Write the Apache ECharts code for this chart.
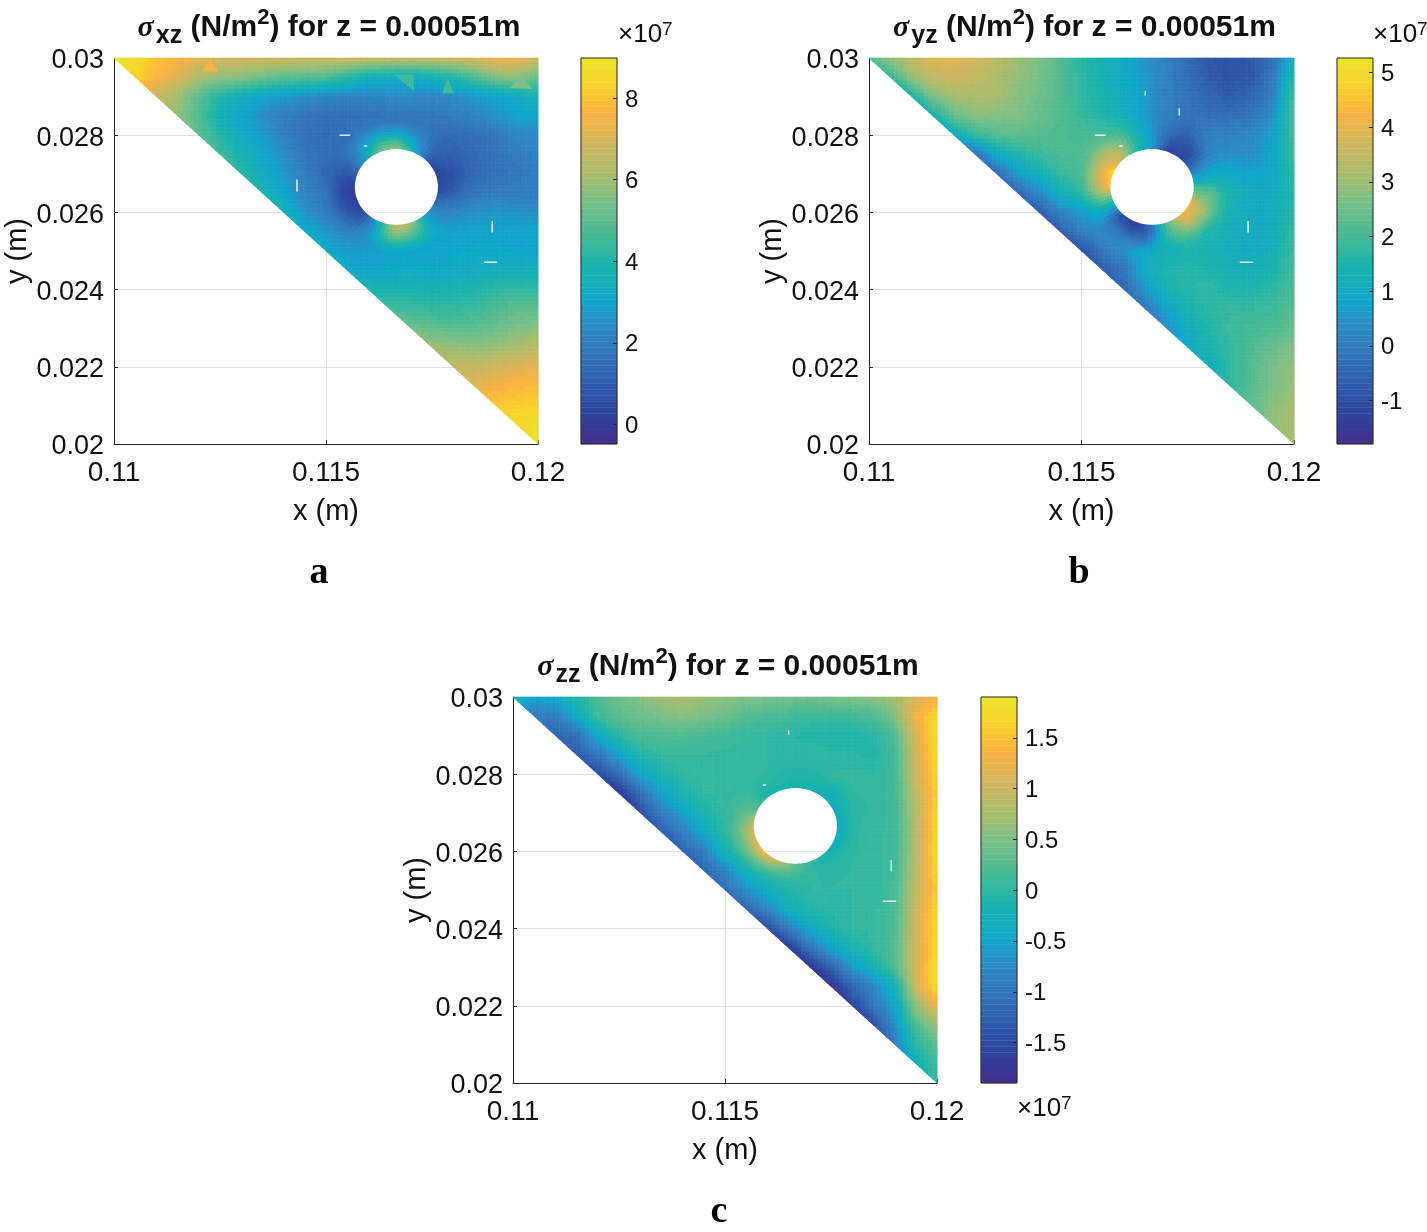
<!DOCTYPE html>
<html><head><meta charset="utf-8">
<style>html,body{margin:0;padding:0;background:#fff}#c{width:1427px;height:1232px}</style>
<script src="https://cdn.jsdelivr.net/npm/echarts@6/dist/echarts.min.js"></script>
</head><body><div id="c"></div>
<script>
// Node positions of the read-off grid (m)
const xNodes = [0.11,0.1105,0.111,0.1115,0.112,0.1125,0.113,0.1135,0.114,0.1145,0.115,0.1155,0.116,0.1165,0.117,0.1175,0.118,0.1185,0.119,0.1195,0.12];
const yNodes = [0.03,0.0295,0.029,0.0285,0.028,0.0275,0.027,0.0265,0.026,0.0255,0.025,0.0245,0.024,0.0235,0.023,0.0225,0.022,0.0215,0.021,0.0205,0.02];
// Stress, units of 1e7 N/m2. Row k starts at column k (lower-left half is outside the plate).
const sigmaXz = [
[9.0,8.6,8.0,7.7,7.3,7.0,7.0,6.9,6.9,6.9,6.9,6.9,6.9,6.8,6.8,6.8,6.9,7.1,7.5,7.5,6.8],
[8.4,7.7,7.2,6.2,5.8,5.7,5.3,5.0,4.9,4.8,4.2,3.5,3.4,3.2,3.6,4.0,4.8,5.6,5.8,5.2],
[6.8,6.0,5.0,4.0,3.4,3.0,2.8,2.5,2.3,2.2,2.2,2.4,2.4,2.3,2.4,2.7,3.0,3.2,3.7],
[5.8,4.8,3.6,3.0,2.5,2.0,1.7,1.5,1.5,1.6,1.7,1.7,1.8,1.9,2.2,2.6,3.0,3.0],
[5.0,4.0,3.3,2.8,2.1,1.6,1.4,1.6,2.0,2.2,2.0,1.6,1.4,1.5,1.8,2.3,2.4],
[4.6,3.7,3.1,2.5,1.7,1.5,1.6,2.6,3.5,3.0,1.5,1.1,1.4,1.6,2.0,2.2],
[4.2,3.3,2.7,2.0,1.3,0.9,1.4,2.0,2.0,1.2,0.9,1.3,1.6,1.8,1.9],
[3.9,3.0,2.2,1.7,0.6,1.5,2.5,2.5,1.6,1.4,1.7,2.0,2.0,2.0],
[3.6,2.6,2.0,1.2,1.4,3.0,3.0,2.2,2.4,2.5,2.7,2.6,2.4],
[3.3,2.7,2.3,2.5,4.5,4.0,3.0,2.9,3.0,3.0,3.0,3.0],
[3.1,2.8,2.8,2.9,3.0,2.9,3.0,3.1,3.1,3.0,3.0],
[3.2,3.0,3.1,3.2,3.1,3.2,3.3,3.4,3.5,3.5],
[3.9,3.8,3.8,3.7,3.8,3.9,4.2,4.3,4.2],
[4.5,4.4,4.3,4.3,4.4,4.7,5.0,5.0],
[5.3,5.1,4.9,5.0,5.2,5.5,5.7],
[6.0,5.9,5.7,5.9,6.2,6.4],
[6.6,6.6,6.9,7.1,7.3],
[7.2,7.5,7.7,7.8],
[8.1,8.2,8.3],
[8.6,8.7],
[8.8]];
const sigmaYz = [
[2.2,3.0,3.5,3.9,4.0,3.8,3.4,3.0,2.7,2.2,1.6,1.3,1.0,0.5,0.1,-0.4,-0.8,-0.9,-0.8,-0.3,1.2],
[1.8,3.0,3.5,3.6,3.5,3.2,2.9,2.6,2.2,1.7,1.3,1.0,0.6,0.2,-0.3,-0.7,-0.9,-0.8,-0.1,1.7],
[1.4,2.7,3.1,3.2,3.1,2.8,2.5,2.2,1.7,1.4,1.0,0.7,0.1,-0.2,-0.5,-0.7,-0.5,0.1,2.0],
[1.3,2.4,2.8,2.8,2.7,2.4,2.2,1.8,1.5,1.2,0.6,0.1,-0.2,-0.3,-0.3,-0.2,0.4,2.1],
[1.0,1.8,2.2,2.3,2.2,2.1,2.0,2.1,1.9,1.0,-0.2,-0.5,0.1,0.2,0.3,0.7,2.0],
[-0.2,1.0,1.5,1.9,2.1,2.1,2.8,4.0,2.0,0.0,-0.8,0.3,0.4,0.4,0.8,1.9],
[-0.3,0.7,1.2,1.8,2.1,3.0,3.0,1.0,1.0,0.5,1.0,0.9,0.8,0.9,1.7],
[-0.4,0.3,1.2,1.7,2.6,2.0,1.0,1.0,2.0,2.2,1.4,1.0,1.0,1.6],
[-0.7,0.2,0.7,1.0,-0.3,0.0,2.0,3.5,2.3,1.3,1.0,1.1,1.7],
[-0.7,0.1,0.4,0.3,-0.6,1.8,2.1,1.5,1.2,1.0,1.1,1.8],
[-0.9,-0.1,0.5,1.0,1.2,1.4,1.3,1.1,1.0,1.2,1.9],
[-0.7,-0.1,1.0,1.5,1.6,1.5,1.3,1.2,1.4,2.0],
[-0.4,0.6,1.4,1.6,1.7,1.5,1.5,1.7,2.1],
[-0.1,0.8,1.4,1.7,1.8,1.8,1.9,2.2],
[0.4,1.1,1.5,1.9,2.0,2.1,2.4],
[0.9,1.4,1.8,2.1,2.4,2.7],
[1.2,1.7,2.2,2.6,2.9],
[1.7,2.2,2.6,3.0],
[2.3,2.8,3.1],
[2.9,3.2],
[3.1]];
const sigmaZz = [
[-0.2,-0.5,-0.4,-0.1,0.2,0.4,0.55,0.7,0.8,0.65,0.6,0.55,0.5,0.45,0.45,0.5,0.55,0.6,0.75,1.1,1.3],
[-0.9,-0.9,-0.4,0.1,0.3,0.4,0.5,0.6,0.5,0.4,0.25,0.2,0.15,0.1,0.1,0.1,0.2,0.5,1.3,1.7],
[-1.2,-1.1,-0.4,0.0,0.2,0.2,0.2,0.15,0.1,0.05,0.0,-0.05,-0.1,-0.1,-0.1,-0.05,0.2,1.1,1.8],
[-1.3,-1.0,-0.5,-0.1,0.05,0.05,0.05,0.05,0.02,0.0,0.0,0.0,-0.05,-0.05,-0.1,0.1,1.0,1.75],
[-1.5,-1.1,-0.5,-0.15,0.0,0.02,0.02,0.02,0.0,-0.1,-0.1,0.02,0.02,0.0,0.1,1.0,1.7],
[-1.75,-1.1,-0.5,-0.15,0.0,0.02,0.05,-0.1,0.0,0.0,-0.2,0.0,0.0,0.1,0.9,1.6],
[-1.5,-0.9,-0.5,-0.15,0.05,0.3,0.5,0.0,0.0,-0.1,0.0,0.0,0.1,0.8,1.7],
[-1.3,-0.9,-0.4,0.0,0.4,1.0,0.0,0.0,-0.2,0.0,0.02,0.1,0.8,1.75],
[-1.2,-0.9,-0.2,0.2,0.5,0.3,-0.1,-0.1,0.0,0.02,0.1,0.8,1.8],
[-1.2,-0.8,-0.2,0.0,0.1,0.0,0.0,0.0,0.02,0.1,0.85,1.7],
[-1.1,-0.7,-0.3,-0.1,0.0,0.0,0.0,0.02,0.15,0.9,1.6],
[-1.2,-0.8,-0.3,-0.1,-0.02,0.0,0.02,0.15,1.0,1.7],
[-1.5,-0.9,-0.4,-0.12,0.0,0.02,0.2,1.0,1.75],
[-1.7,-1.0,-0.5,-0.15,0.0,0.25,1.0,1.7],
[-1.8,-1.2,-0.6,-0.2,0.2,1.1,1.8],
[-1.85,-1.2,-0.8,-0.25,1.0,1.8],
[-1.6,-1.0,-0.5,0.6,1.3],
[-1.5,-0.7,0.2,0.7],
[-0.9,-0.05,0.3],
[-0.3,0.1],
[0.05]];
// Values read on the rim of the hole, every 22.5 degrees counter-clockwise from +x
const rimXz = [0.2,0.2,1.0,3.5,6.0,5.5,3.0,1.2,0.0,0.0,0.6,3.5,7.0,6.0,3.0,1.5];
const rimYz = [2.0,0.0,-1.2,-1.5,0.5,1.5,3.5,5.0,4.5,1.8,-1.0,-1.6,-0.3,2.5,4.3,4.0];
const rimZz = [-0.4,-0.5,-0.3,-0.25,-0.2,-0.2,-0.1,0.3,1.0,1.3,1.5,1.0,0.4,0.0,-0.2,-0.35];
const holeCentre = [0.11666,0.02666];
const holeRadius = 0.00098;
// White mesh gaps [x0,y0,x1,y1]
const gapsXz = [[0.114315,0.02685,0.114315,0.02654],[0.11892,0.02578,0.11892,0.02548],[0.118724,0.02471,0.119039,0.02471],[0.11532,0.028,0.11557,0.028],[0.11589,0.02772,0.11597,0.02772]];
const gapsYz = [[0.1165,0.02914,0.1165,0.02903],[0.1173,0.0287,0.1173,0.02851],[0.11892,0.02578,0.11892,0.02548],[0.118724,0.02471,0.119039,0.02471],[0.11532,0.028,0.11557,0.028],[0.11589,0.02772,0.11597,0.02772]];
const gapsZz = [[0.1165,0.02914,0.1165,0.02903],[0.11892,0.02578,0.11892,0.02548],[0.118724,0.02471,0.119039,0.02471],[0.11589,0.02772,0.11597,0.02772]];
// Off-trend mesh elements in the sigma-xz plot [x1,y1,x2,y2,x3,y3,value]
const patchesXz = [[0.11227,0.02998,0.11207,0.02965,0.11246,0.02965,7.6],[0.11787,0.02948,0.11774,0.02909,0.11802,0.02909,4.6],[0.11959,0.02955,0.11934,0.02922,0.11987,0.0292,5.5],[0.1166,0.02957,0.11707,0.02957,0.11707,0.02914,4.5]];
// Colour bars
const rangeXz = [-0.49,8.98], rangeYz = [-1.8,5.26], rangeZz = [-1.9,1.9];
const ticksXz = [0,2,4,6,8], ticksYz = [-1,0,1,2,3,4,5], ticksZz = [-1.5,-1,-0.5,0,0.5,1,1.5];
const titleNames = ['xz','yz','zz'];
const panelLetters = ['a','b','c'];
const rimDecay = [1.6,1.6,3];
const colormap = [[0,'#442e8e'],[0.09,'#2c479f'],[0.2,'#326bb5'],[0.3,'#2f88c6'],[0.37,'#0fa7cb'],[0.46,'#19b3ad'],[0.55,'#4cbb93'],[0.63,'#7bc088'],[0.7,'#a9bc6b'],[0.78,'#d1b65f'],[0.86,'#fbb340'],[0.93,'#f8d22a'],[1,'#ebe42a']];

const cmapRgb = colormap.map(c=>[c[0],parseInt(c[1].slice(1,3),16),parseInt(c[1].slice(3,5),16),parseInt(c[1].slice(5,7),16)]);
function colorOf(v,range){
  let f=(v-range[0])/(range[1]-range[0]); f=Math.max(0,Math.min(1,f));
  f=(Math.min(63,Math.floor(f*64))+0.5)/64; // 64 level map
  let k=0; while(k<cmapRgb.length-2&&f>cmapRgb[k+1][0])k++;
  const a=cmapRgb[k],b=cmapRgb[k+1],t=(f-a[0])/(b[0]-a[0]);
  return 'rgb('+[1,2,3].map(n=>Math.round(a[n]+(b[n]-a[n])*t)).join(',')+')';
}
const N=5;
function nodeVal(g,i,j){ return i>=j ? g[j][i-j] : g[j][0]+g[j-1][i-j+1]-g[j-1][0]; }
function field(g,x,y){
  const fx=Math.max(0,Math.min(19.999,(x-0.11)/0.0005)), fy=Math.max(0,Math.min(19.999,(0.03-y)/0.0005));
  const i=Math.floor(fx), j=Math.floor(fy), u=fx-i, v=fy-j;
  if(i<j) return nodeVal(g,j,j);
  const d=i===j ? nodeVal(g,i,j)+nodeVal(g,i+1,j+1)-nodeVal(g,i+1,j) : nodeVal(g,i,j+1);
  return (1-u)*(1-v)*nodeVal(g,i,j)+u*(1-v)*nodeVal(g,i+1,j)+(1-u)*v*d+u*v*nodeVal(g,i+1,j+1);
}
function polyEl(pts,col){
  return {type:'polygon',shape:{points:pts},style:{fill:col,stroke:col,lineWidth:0.7},silent:true};
}
function fieldSeries(p,g,range){
  const cells=[];
  for(let j=0;j<20;j++)for(let i=j;i<20;i++)cells.push([xNodes[i],yNodes[j],i,j]);
  return {type:'custom',xAxisIndex:p,yAxisIndex:p,clip:false,silent:true,z:2,data:cells,encode:{x:0,y:1},
    renderItem(params,api){
      const c=cells[params.dataIndex],i=c[2],j=c[3];
      const x0=xNodes[i],x1=xNodes[i+1],y0=yNodes[j],y1=yNodes[j+1],ch=[];
      const dx=(x1-x0)/N,dy=(y1-y0)/N;
      for(let b=0;b<N;b++)for(let a=0;a<N;a++){
        const tri=i===j;
        if(tri&&a<b)continue;
        const xa=x0+a*dx,ya=y0+b*dy;
        const col=colorOf(field(g,xa+dx/2,ya+dy/2),range);
        const A=api.coord([xa,ya]),B=api.coord([xa+dx,ya]),C=api.coord([xa+dx,ya+dy]),D=api.coord([xa,ya+dy]);
        ch.push(polyEl(tri&&a===b?[A,B,C]:[A,B,C,D],col));
      }
      return {type:'group',children:ch};
    }};
}
function rimSeries(p,g,rim,range){
  const R=holeRadius,R2=holeRadius*1.8,cx=holeCentre[0],cy=holeCentre[1];
  const rimAt=deg=>{const s=((deg%360)+360)%360/22.5,k=Math.floor(s),t=s-k;return rim[k%16]*(1-t)+rim[(k+1)%16]*t;};
  return {type:'custom',xAxisIndex:p,yAxisIndex:p,clip:false,silent:true,z:3,data:rim.map((v,k)=>[cx,cy,k]),encode:{x:0,y:1},
    renderItem(params,api){
      const ch=[],k=params.dataIndex,SUB=5,RAD=10;
      for(let s=0;s<SUB;s++)for(let r=0;r<RAD;r++){
        const a0=(k+s/SUB)*22.5,a1=(k+(s+1)/SUB)*22.5,r0=R+(R2-R)*r/RAD,r1=R+(R2-R)*(r+1)/RAD;
        const am=(a0+a1)/2*Math.PI/180,rm=(r0+r1)/2,t=(rm-R)/(R2-R),w=Math.pow(1-t,rimDecay[p]);
        const v=rimAt((a0+a1)/2)*w+field(g,cx+rm*Math.cos(am),cy+rm*Math.sin(am))*(1-w);
        const pt=(rr,aa)=>api.coord([cx+rr*Math.cos(aa*Math.PI/180),cy+rr*Math.sin(aa*Math.PI/180)]);
        ch.push(polyEl([pt(r0,a0),pt(r0,a1),pt(r1,a1),pt(r1,a0)],colorOf(v,range)));
      }
      return {type:'group',children:ch};
    }};
}
function patchSeries(p,patches,range){
  return {type:'custom',xAxisIndex:p,yAxisIndex:p,clip:false,silent:true,z:3,data:patches.map(t=>[t[0],t[1]]),encode:{x:0,y:1},
    renderItem(params,api){
      const t=patches[params.dataIndex];
      return {type:'polygon',shape:{points:[api.coord([t[0],t[1]]),api.coord([t[2],t[3]]),api.coord([t[4],t[5]])]},style:{fill:colorOf(t[6],range)}};
    }};
}
function holeSeries(p,gaps){
  const items=[[holeCentre[0],holeCentre[1]]];
  return {type:'custom',xAxisIndex:p,yAxisIndex:p,clip:false,silent:true,z:4,data:items,encode:{x:0,y:1},
    renderItem(params,api){
      const pts=[];
      for(let d=0;d<90;d++){const a=d*4*Math.PI/180;pts.push(api.coord([holeCentre[0]+holeRadius*Math.cos(a),holeCentre[1]+holeRadius*Math.sin(a)]));}
      const dy=0.026-holeCentre[1],hc=Math.sqrt(holeRadius*holeRadius-dy*dy);
      const ch=[{type:'polygon',shape:{points:pts},style:{fill:'#fff'}},
        {type:'line',shape:(()=>{const L=api.coord([holeCentre[0]-hc,0.026]),Rr=api.coord([holeCentre[0]+hc,0.026]);return {x1:L[0],y1:L[1],x2:Rr[0],y2:Rr[1]};})(),style:{stroke:'#e2e2e2',lineWidth:1}}];
      gaps.forEach(s=>{const A=api.coord([s[0],s[1]]),B=api.coord([s[2],s[3]]);ch.push({type:'line',shape:{x1:A[0],y1:A[1],x2:B[0],y2:B[1]},style:{stroke:'#fff',lineWidth:1.3}});});
      return {type:'group',children:ch};
    }};
}
function barSeries(p,range,ticks){
  const levels=[];const st=(range[1]-range[0])/64;
  for(let k=0;k<64;k++)levels.push([0,range[0]+k*st,k]);
  return [{type:'custom',xAxisIndex:p,yAxisIndex:p,silent:true,z:2,data:levels,encode:{x:0,y:1},
    renderItem(params,api){
      const k=params.dataIndex,y0=range[0]+k*st,A=api.coord([0,y0]),B=api.coord([1,y0+st]),col=colorOf(y0+st/2,range);
      return {type:'rect',shape:{x:A[0],y:B[1],width:B[0]-A[0],height:A[1]-B[1]},style:{fill:col,stroke:col,lineWidth:0.4}};
    }},
    {type:'custom',xAxisIndex:p,yAxisIndex:p,silent:true,z:5,data:[[0,range[0]]],encode:{x:0,y:1},
    renderItem(params,api){
      const A=api.coord([0,range[0]]),B=api.coord([1,range[1]]);
      const ch=[{type:'rect',shape:{x:A[0],y:B[1],width:B[0]-A[0],height:A[1]-B[1]},style:{fill:'none',stroke:'#262626',lineWidth:1}}];
      ticks.forEach(v=>{const P=api.coord([1,v]),Y=Math.round(P[1])+0.5;ch.push({type:'line',shape:{x1:P[0]-4,y1:Y,x2:P[0],y2:Y},style:{stroke:'#262626',lineWidth:1}});});
      return {type:'group',children:ch};
    }}];
}
const FONT='"Liberation Sans",Arial,sans-serif';
const main=[{x:114,y:58,w:424,h:386,cb:581},{x:869,y:58,w:425,h:386,cb:1337},{x:513,y:697,w:424,h:386,cb:981}];
const grids=[],xA=[],yA=[],series=[],titles=[],gfx=[];
const G=[sigmaXz,sigmaYz,sigmaZz],Rm=[rimXz,rimYz,rimZz],Rg=[rangeXz,rangeYz,rangeZz],Gp=[gapsXz,gapsYz,gapsZz],Tk=[ticksXz,ticksYz,ticksZz],Pt=[patchesXz,[],[]];
main.forEach((m,p)=>{
  grids.push({left:m.x,top:m.y,width:m.w,height:m.h});
  xA.push({type:'value',gridIndex:p,min:0.11,max:0.12,interval:0.005,name:'x (m)',nameLocation:'middle',nameGap:53,
    nameTextStyle:{fontFamily:FONT,fontSize:29,color:'#111'},
    axisLine:{show:true,onZero:false,lineStyle:{color:'#262626',width:1}},axisTick:{show:true,inside:true,length:4,lineStyle:{color:'#262626'}},
    axisLabel:{fontFamily:FONT,fontSize:28,color:'#111',margin:15},splitLine:{show:true,lineStyle:{color:'#e0e0e0',width:1}}});
  yA.push({type:'value',gridIndex:p,min:0.02,max:0.03,interval:0.002,name:'y (m)',nameLocation:'middle',nameGap:78,
    nameTextStyle:{fontFamily:FONT,fontSize:29,color:'#111'},
    axisLine:{show:true,onZero:false,lineStyle:{color:'#262626',width:1}},axisTick:{show:true,inside:true,length:4,lineStyle:{color:'#262626'}},
    axisLabel:{fontFamily:FONT,fontSize:27,color:'#111',margin:10,verticalAlign:'top',lineHeight:6},splitLine:{show:true,lineStyle:{color:'#e0e0e0',width:1}}});
  series.push(fieldSeries(p,G[p],Rg[p]),rimSeries(p,G[p],Rm[p],Rg[p]));
  if(Pt[p].length)series.push(patchSeries(p,Pt[p],Rg[p]));
  series.push(holeSeries(p,Gp[p]));
  titles.push({left:m.x+m.w/2-2,top:m.y-56,textAlign:'center',
    text:'{s|\u03c3}{b|'+titleNames[p]+'} (N/m{t|2}) for z = 0.00051m',
    textStyle:{fontFamily:FONT,fontWeight:'bold',fontSize:30,color:'#111',
      rich:{s:{fontFamily:'"Liberation Serif",serif',fontStyle:'italic',fontWeight:'bold',fontSize:30,color:'#111',verticalAlign:'middle'},
        b:{fontFamily:FONT,fontWeight:'bold',fontSize:25,color:'#111',padding:[17,0,0,2],verticalAlign:'bottom'},
        t:{fontFamily:FONT,fontWeight:'bold',fontSize:22,color:'#111',padding:[0,0,15,0],verticalAlign:'top'}}}});
});
main.forEach((m,p)=>{
  const q=p+3;
  grids.push({left:m.cb,top:m.y,width:36,height:386});
  xA.push({type:'value',gridIndex:q,min:0,max:1,show:false,splitLine:{show:false}});
  yA.push({type:'value',gridIndex:q,position:'right',min:Rg[p][0],max:Rg[p][1],splitLine:{show:false},
    axisLine:{show:false},axisTick:{show:false,customValues:Tk[p]},
    axisLabel:{fontFamily:FONT,fontSize:24,color:'#111',margin:8,verticalAlign:'top',lineHeight:4,customValues:Tk[p]}});
  series.push(...barSeries(q,Rg[p],Tk[p]));
});
// exponent marks and panel letters
[[618,37],[1373,37],[1017,1111]].forEach(a=>{
  gfx.push({type:'text',left:a[0],top:a[1]-17,silent:true,style:{text:'\u00d710{t|7}',fontFamily:FONT,fontSize:26,fill:'#111',
    rich:{t:{fontFamily:FONT,fontSize:19,fill:'#111',padding:[0,0,10,0],verticalAlign:'top'}}}});
});
[[319,573],[1079,573],[719,1212]].forEach((a,k)=>{
  gfx.push({type:'text',x:a[0],y:a[1],silent:true,style:{text:panelLetters[k],fontFamily:'"Liberation Serif",serif',fontWeight:'bold',fontSize:38,fill:'#000',align:'center',verticalAlign:'middle'}});
});
const chart=echarts.init(document.getElementById('c'),null,{renderer:'canvas'});
chart.setOption({animation:false,backgroundColor:'#fff',title:titles,grid:grids,xAxis:xA,yAxis:yA,series:series,graphic:gfx});
</script></body></html>
